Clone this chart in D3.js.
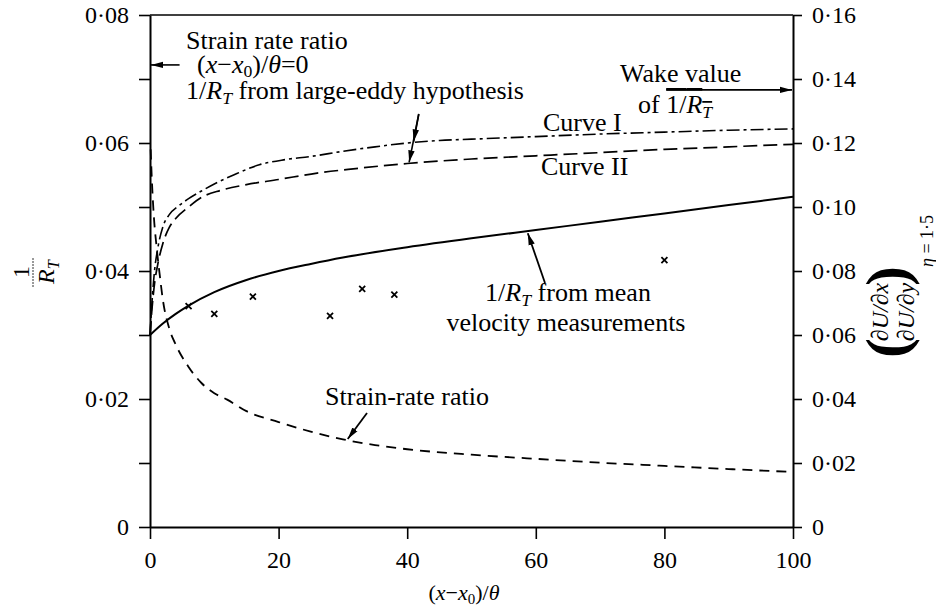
<!DOCTYPE html>
<html><head><meta charset="utf-8">
<script src="https://cdn.jsdelivr.net/npm/d3@7"></script>
<style>
body{margin:0;background:#fff;}
svg{display:block;}
</style></head>
<body>
<svg id="c" width="936" height="607"></svg>
<script>
// ---------- data ----------
const xTicks = [0, 20, 40, 60, 80, 100];
const leftTicks = [0, 0.02, 0.04, 0.06, 0.08];
const leftMinorTicks = [0.01, 0.03, 0.05, 0.07];
const rightTicks = [0, 0.02, 0.04, 0.06, 0.08, 0.10, 0.12, 0.14, 0.16];

// 1/R_T from mean velocity measurements (left axis)
const meanX = [0, 2, 4, 6, 10, 15, 20, 25, 30, 40, 50, 60, 70, 80, 90, 100];
const meanY = [0.0300, 0.0318, 0.0333, 0.0346, 0.0367, 0.0386, 0.0400, 0.0411, 0.0421, 0.0437, 0.0451, 0.0464, 0.0477, 0.0490, 0.0503, 0.0516];

// Curve I (large-eddy hypothesis, left axis)
const curve1X = [0, 0.3, 0.7, 1.2, 2, 3, 4.5, 6, 8, 10, 13, 17, 21, 25, 30, 35, 40, 45, 50, 60, 70, 80, 90, 100];
const curve1Y = [0.030, 0.035, 0.040, 0.0435, 0.0469, 0.0488, 0.0502, 0.0513, 0.0525, 0.0536, 0.0550, 0.0566, 0.0574, 0.0579, 0.0587, 0.0594, 0.0600, 0.0604, 0.0606, 0.0610, 0.0614, 0.0617, 0.0620, 0.0622];

// Curve II (large-eddy hypothesis, left axis)
const curve2X = [0, 0.3, 0.7, 1.2, 2, 3, 4, 6, 8, 11, 15, 20, 26, 32, 40, 50, 60, 70, 80, 90, 100];
const curve2Y = [0.030, 0.034, 0.038, 0.041, 0.0443, 0.0468, 0.0482, 0.0500, 0.0515, 0.0526, 0.0535, 0.0543, 0.0553, 0.0560, 0.0568, 0.0575, 0.0580, 0.0585, 0.0590, 0.0594, 0.0598];

// Strain-rate ratio (right axis)
const strainX = [0.1, 0.3, 0.6, 1, 1.5, 2, 3, 4, 6, 8, 10, 12, 15, 20, 25, 30, 35, 40, 50, 60, 70, 80, 90, 100];
const strainY = [0.118, 0.108, 0.097, 0.088, 0.079, 0.071, 0.062, 0.057, 0.050, 0.0450, 0.0418, 0.0398, 0.0362, 0.0328, 0.0298, 0.0274, 0.0256, 0.0243, 0.0226, 0.0213, 0.0201, 0.0191, 0.0181, 0.0172];

// measured points (x markers, left axis)
const crossX = [6, 10, 16, 28, 33, 38, 80];
const crossY = [0.0345, 0.0333, 0.0360, 0.0330, 0.0372, 0.0363, 0.0417];

// annotation values
const strainAtZero = 0.1444;   // right axis
const wakeValue = 0.0683;      // left axis

// ---------- layout ----------
const FONT = "'Liberation Serif','Times New Roman',serif";
const svg = d3.select("#c").style("font-family", FONT);
const x = d3.scaleLinear().domain([0, 100]).range([150, 793]);
const yL = d3.scaleLinear().domain([0, 0.08]).range([527, 15]);
const yR = d3.scaleLinear().domain([0, 0.16]).range([527, 15]);
const fmt = d => d === 0 ? "0" : d.toFixed(2).replace(".", "·");

// arrow marker
svg.append("defs").append("marker")
  .attr("id", "ah").attr("viewBox", "0 0 12 8").attr("refX", 12).attr("refY", 4)
  .attr("markerWidth", 12).attr("markerHeight", 8).attr("markerUnits", "userSpaceOnUse")
  .attr("orient", "auto")
  .append("path").attr("d", "M0,0.8 L12,4 L0,7.2 Z").attr("fill", "#000");

// axes
const gL = svg.append("g").attr("transform", `translate(${x(0)},0)`)
  .call(d3.axisLeft(yL).tickValues(leftTicks).tickFormat(fmt).tickSize(11).tickSizeOuter(0).tickPadding(10));
const gLm = svg.append("g").attr("transform", `translate(${x(0)},0)`)
  .call(d3.axisLeft(yL).tickValues(leftMinorTicks).tickFormat("").tickSize(11).tickSizeOuter(0));
gLm.select(".domain").remove();
const gR = svg.append("g").attr("transform", `translate(${x(100)},0)`)
  .call(d3.axisRight(yR).tickValues(rightTicks).tickFormat(fmt).tickSize(9).tickSizeOuter(0).tickPadding(10));
const gB = svg.append("g").attr("transform", `translate(0,${yL(0)})`)
  .call(d3.axisBottom(x).tickValues(xTicks).tickSize(12).tickSizeOuter(0).tickPadding(12));
[gL, gLm, gR, gB].forEach(g => {
  g.attr("font-family", null).attr("font-size", null);
  g.selectAll("text").style("font-family", FONT).style("font-size", "24px").attr("fill", "#000");
  g.selectAll("line").attr("stroke", "#000").attr("stroke-width", 1.6);
  g.select(".domain").attr("stroke", "#000").attr("stroke-width", 2);
});
// top frame line
svg.append("line").attr("x1", x(0)).attr("x2", x(100)).attr("y1", yL(0.08)).attr("y2", yL(0.08))
  .attr("stroke", "#000").attr("stroke-width", 1.6);

// ---------- curves ----------
const mk = (xs, ys) => xs.map((v, i) => [v, ys[i]]);
const lineL = d3.line().x(d => x(d[0])).y(d => yL(d[1])).curve(d3.curveMonotoneX);
const lineR = d3.line().x(d => x(d[0])).y(d => yR(d[1])).curve(d3.curveMonotoneX);

svg.append("path").attr("d", lineL(mk(meanX, meanY))).attr("fill", "none")
  .attr("stroke", "#000").attr("stroke-width", 2);
svg.append("path").attr("d", lineL(mk(curve1X, curve1Y))).attr("fill", "none")
  .attr("stroke", "#000").attr("stroke-width", 1.6).attr("stroke-dasharray", "13,4,3,4");
svg.append("path").attr("d", lineL(mk(curve2X, curve2Y))).attr("fill", "none")
  .attr("stroke", "#000").attr("stroke-width", 1.7).attr("stroke-dasharray", "14,6");
svg.append("path").attr("d", lineR(mk(strainX, strainY))).attr("fill", "none")
  .attr("stroke", "#000").attr("stroke-width", 1.8).attr("stroke-dasharray", "10,7");

// crosses
svg.append("g").selectAll("path").data(mk(crossX, crossY)).join("path")
  .attr("transform", d => `translate(${x(d[0])},${yL(d[1])})`)
  .attr("d", "M-3,-3L3,3M-3,3L3,-3").attr("stroke", "#000").attr("stroke-width", 1.8);

// ---------- annotations ----------
const at = (xs, ys) => d3.scaleLinear().domain(xs).range(ys);
const arrow = (x1, y1, x2, y2, w) => svg.append("line")
  .attr("x1", x1).attr("y1", y1).attr("x2", x2).attr("y2", y2)
  .attr("stroke", "#000").attr("stroke-width", w || 1.6).attr("marker-end", "url(#ah)");

arrow(x(4.6), yR(strainAtZero), x(0) + 1, yR(strainAtZero));
arrow(x(80.3), yL(wakeValue), x(100) - 1, yL(wakeValue));
arrow(x(41.8), 114, x(41.0), yL(at(curve1X, curve1Y)(41.0)) - 1);
arrow(x(41.8), 114, x(40.3), yL(at(curve2X, curve2Y)(40.3)) - 1);
arrow(545, 283, x(58.6) + 1, yL(at(meanX, meanY)(58.6)) + 2, 1.8);
arrow(367, 413, x(30.6) + 1, yR(at(strainX, strainY)(30.6)) - 1, 1.8);

const T = (px, py, size, anchor) => svg.append("text").attr("x", px).attr("y", py)
  .style("font-family", FONT).style("font-size", size + "px").attr("text-anchor", anchor || "start");
const rt = (t) => {
  t.append("tspan").text("1/");
  t.append("tspan").attr("font-style", "italic").text("R");
  t.append("tspan").attr("font-style", "italic").attr("font-size", "0.68em").attr("dy", 5).text("T");
  return t;
};

T(186, 49, 26).text("Strain rate ratio");
{ const t = T(197, 73, 26);
  t.append("tspan").text("(");
  t.append("tspan").attr("font-style", "italic").text("x");
  t.append("tspan").text("−");
  t.append("tspan").attr("font-style", "italic").text("x");
  t.append("tspan").attr("font-size", "0.68em").attr("dy", 4).text("0");
  t.append("tspan").attr("dy", -4).text(")/");
  t.append("tspan").attr("font-style", "italic").text("θ");
  t.append("tspan").text("=0"); }
{ const t = rt(T(186, 99, 26)); t.append("tspan").attr("dy", -5).text(" from large-eddy hypothesis"); }

T(620, 82, 26).text("Wake value");
{ const t = T(638, 113, 26); t.append("tspan").text("of ");
  const s = t.append("tspan").attr("text-decoration", "overline");
  s.append("tspan").text("1/"); s.append("tspan").attr("font-style", "italic").text("R");
  s.append("tspan").attr("font-style", "italic").attr("font-size", "0.68em").attr("dy", 5).text("T"); }

T(543, 131, 26).text("Curve I");
T(541, 175, 26).text("Curve II");

{ const t = rt(T(568, 301, 26, "middle")); t.append("tspan").attr("dy", -5).text(" from mean"); }
T(566, 331, 26, "middle").text("velocity measurements");
T(407, 405, 26, "middle").text("Strain-rate ratio");

// x-axis title
{ const t = T(464, 600, 22, "middle");
  t.append("tspan").text("(");
  t.append("tspan").attr("font-style", "italic").text("x");
  t.append("tspan").text("−");
  t.append("tspan").attr("font-style", "italic").text("x");
  t.append("tspan").attr("font-size", "0.68em").attr("dy", 4).text("0");
  t.append("tspan").attr("dy", -4).text(")/");
  t.append("tspan").attr("font-style", "italic").text("θ"); }

// left axis label: 1 / R_T
{ const g = svg.append("g").attr("transform", "translate(33,272) rotate(-90)");
  g.append("text").attr("x", 0).attr("y", -4).attr("text-anchor", "middle").style("font-size", "24px").text("1");
  g.append("line").attr("x1", -15).attr("x2", 15).attr("y1", 0).attr("y2", 0)
    .attr("stroke", "#000").attr("stroke-width", 0.8).attr("stroke-dasharray", "2,1");
  const d = g.append("text").attr("x", 0).attr("y", 21).attr("text-anchor", "middle").style("font-size", "24px");
  d.append("tspan").attr("font-style", "italic").text("R");
  d.append("tspan").attr("font-style", "italic").attr("font-size", "0.68em").attr("dy", 5).text("T"); }

// right axis label: (∂U/∂x over ∂U/∂y)_{η=1·5}
{ const g = svg.append("g").attr("transform", "translate(893,312) rotate(-90)");
  g.append("text").attr("x", 0).attr("y", -5).attr("text-anchor", "middle").style("font-size", "24px")
    .attr("font-style", "italic").text("∂U/∂x");
  g.append("text").attr("x", 0).attr("y", 21).attr("text-anchor", "middle").style("font-size", "24px")
    .attr("font-style", "italic").text("∂U/∂y");
  g.append("text").attr("x", -36).attr("y", 14).attr("text-anchor", "middle").style("font-size", "60px")
    .attr("font-weight", "bold").text("(");
  g.append("text").attr("x", 36).attr("y", 14).attr("text-anchor", "middle").style("font-size", "60px")
    .attr("font-weight", "bold").text(")");
  const s = g.append("text").attr("x", 45).attr("y", 40).style("font-size", "18px");
  s.append("tspan").attr("font-style", "italic").text("η");
  s.append("tspan").text(" = 1·5"); }
</script>
</body></html>
